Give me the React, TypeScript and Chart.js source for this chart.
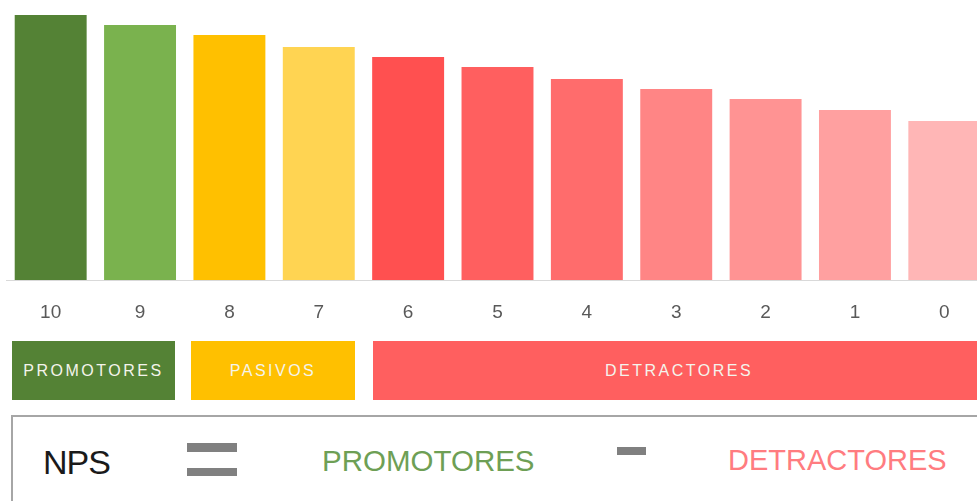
import React, { useEffect, useRef } from "react";
import { Chart, registerables } from "chart.js";

Chart.register(...registerables);

const categories = ["10", "9", "8", "7", "6", "5", "4", "3", "2", "1", "0"];
const values = [26.5, 25.5, 24.5, 23.3, 22.3, 21.3, 20.1, 19.1, 18.1, 17.0, 15.9];
const barColors = [
  "#548235", "#7AB24E", "#FFC000", "#FFD452", "#FF5050", "#FF5F5F",
  "#FF6C6C", "#FF8585", "#FF9393", "#FFA0A0", "#FFB6B6",
];
const groupLabels = ["PROMOTORES", "PASIVOS", "DETRACTORES"];
const groupColors = ["#548235", "#FFC000", "#FF5F5F"];
const formulaLeft = "NPS";
const yMax = 27.2;

const FONT = '"Liberation Sans", Arial, sans-serif';

export default function App() {
  const canvasRef = useRef<HTMLCanvasElement | null>(null);

  useEffect(() => {
    if (!canvasRef.current) return;
    const chart = new Chart(canvasRef.current, {
      type: "bar",
      data: {
        labels: categories,
        datasets: [
          {
            data: values,
            backgroundColor: barColors,
            borderWidth: 0,
            categoryPercentage: 1,
            barPercentage: 0.805,
          },
        ],
      },
      options: {
        responsive: false,
        animation: false,
        layout: { padding: { left: 6, right: 6, top: 8, bottom: 0 } },
        plugins: { legend: { display: false }, tooltip: { enabled: false } },
        scales: {
          x: {
            grid: { display: false, drawTicks: false },
            border: { display: true, color: "#D9D9D9", width: 1 },
            ticks: {
              color: "#595959",
              font: { family: FONT, size: 19 },
              padding: 21,
            },
            afterFit: (scale: any) => {
              scale.height = 50;
            },
          },
          y: {
            display: false,
            min: 0,
            max: yMax,
          },
        },
      },
    });
    return () => chart.destroy();
  }, []);

  const boxStyle = (left: number, width: number, bg: string): React.CSSProperties => ({
    position: "absolute",
    left,
    top: 341,
    width,
    height: 59,
    background: bg,
    color: "#F4F4EC",
    fontFamily: FONT,
    fontSize: 16,
    letterSpacing: "2.5px",
    display: "flex",
    alignItems: "center",
    justifyContent: "center",
  });

  const bar = (left: number, top: number, width: number, height: number): React.CSSProperties => ({
    position: "absolute",
    left,
    top,
    width,
    height,
    background: "#808080",
  });

  return (
    <div
      style={{
        position: "fixed",
        left: 0,
        top: 0,
        width: 977,
        height: 501,
        overflow: "hidden",
        background: "#ffffff",
      }}
    >
      <canvas
        ref={canvasRef}
        width={995}
        height={330}
        style={{ position: "absolute", left: 0, top: 0, width: 995, height: 330 }}
      />
      <div style={boxStyle(12, 163, groupColors[0])}>{groupLabels[0]}</div>
      <div style={boxStyle(191, 164, groupColors[1])}>{groupLabels[1]}</div>
      <div style={boxStyle(373, 620, groupColors[2])}>
        <span style={{ position: "relative", left: -4 }}>{groupLabels[2]}</span>
      </div>
      <div
        style={{
          position: "absolute",
          left: 11,
          top: 415,
          width: 1000,
          height: 120,
          border: "2px solid #A6A6A6",
          boxSizing: "border-box",
        }}
      />
      <div
        style={{
          position: "absolute",
          left: 43,
          top: 445,
          fontFamily: FONT,
          fontSize: 34,
          lineHeight: "34px",
          color: "#1A1A1A",
          letterSpacing: "-1px",
        }}
      >
        {formulaLeft}
      </div>
      <div style={bar(187, 443, 50, 9)} />
      <div style={bar(187, 468, 50, 8)} />
      <div
        style={{
          position: "absolute",
          left: 322,
          top: 446,
          fontFamily: FONT,
          fontSize: 29.5,
          lineHeight: "30px",
          color: "#6E9F55",
        }}
      >
        {groupLabels[0]}
      </div>
      <div style={bar(617, 447, 29, 8)} />
      <div
        style={{
          position: "absolute",
          left: 728,
          top: 446,
          fontFamily: FONT,
          fontSize: 29,
          lineHeight: "29px",
          color: "#FF7C80",
        }}
      >
        {groupLabels[2]}
      </div>
    </div>
  );
}
